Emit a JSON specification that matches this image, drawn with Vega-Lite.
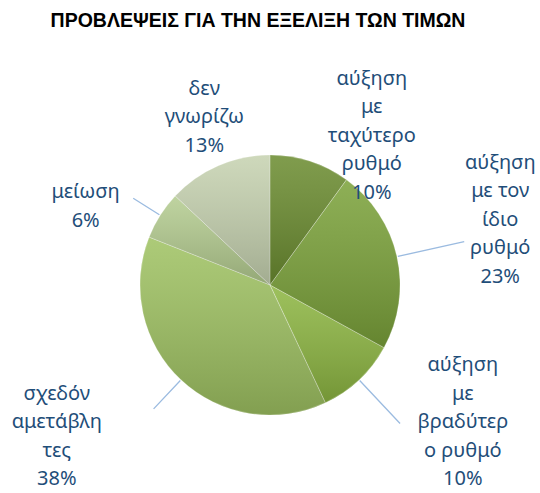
{
  "$schema": "https://vega.github.io/schema/vega-lite/v6.json",
  "width": 540,
  "height": 416,
  "autosize": "none",
  "padding": {"top": 77, "left": 0, "right": 0, "bottom": 0},
  "title": {
    "text": "ΠΡΟΒΛΕΨΕΙΣ ΓΙΑ ΤΗΝ ΕΞΕΛΙΞΗ ΤΩΝ ΤΙΜΩΝ",
    "font": "Liberation Sans",
    "fontSize": 19.5,
    "fontWeight": "bold",
    "color": "#000000",
    "anchor": "middle",
    "frame": "group",
    "offset": -78,
    "dx": -12
  },
  "data": {
    "values": [
      {"k": "αύξηση με ταχύτερο ρυθμό", "label": "αύξηση\nμε\nταχύτερο\nρυθμό\n10%", "v": 10, "o": 1},
      {"k": "αύξηση με τον ίδιο ρυθμό", "label": "αύξηση\nμε τον\nίδιο\nρυθμό\n23%", "v": 23, "o": 2},
      {"k": "αύξηση με βραδύτερο ρυθμό", "label": "αύξηση\nμε\nβραδύτερ\nο ρυθμό\n10%", "v": 10, "o": 3},
      {"k": "σχεδόν αμετάβλητες", "label": "σχεδόν\nαμετάβλη\nτες\n38%", "v": 38, "o": 4},
      {"k": "μείωση", "label": "μείωση\n6%", "v": 6, "o": 5},
      {"k": "δεν γνωρίζω", "label": "δεν\nγνωρίζω\n13%", "v": 13, "o": 6}
    ]
  },
  "encoding": {
    "theta": {"field": "v", "type": "quantitative", "stack": true},
    "order": {"field": "o", "type": "quantitative", "sort": "ascending"}
  },
  "layer": [
    {
      "mark": {"type": "arc", "radius": 130},
      "encoding": {
        "color": {
          "field": "k",
          "type": "nominal",
          "legend": null,
          "scale": {
            "domain": ["αύξηση με ταχύτερο ρυθμό", "αύξηση με τον ίδιο ρυθμό", "αύξηση με βραδύτερο ρυθμό", "σχεδόν αμετάβλητες", "μείωση", "δεν γνωρίζω"],
            "range": ["#6b8c30", "#7ba23a", "#8db642", "#9fc262", "#b4cc90", "#c6d2b0"]
          }
        }
      }
    },
    {
      "mark": {
        "type": "arc",
        "radius": 130,
        "fill": {
          "gradient": "linear",
          "x1": 0, "y1": 0, "x2": 0, "y2": 1,
          "stops": [
            {"offset": 0, "color": "rgba(255,255,255,0.14)"},
            {"offset": 1, "color": "rgba(0,0,0,0.18)"}
          ]
        },
        "stroke": "#ffffff",
        "strokeWidth": 0.6,
        "strokeOpacity": 0.35
      }
    },
    {
      "mark": {"type": "arc", "radius": 199, "radius2": 131, "padAngle": 3.2, "fill": null, "stroke": "#9bbbe0", "strokeWidth": 1.3},
      "encoding": {"strokeOpacity": {"condition": {"test": "datum.o === 2", "value": 1}, "value": 0}}
    },
    {
      "mark": {"type": "arc", "radius": 190, "radius2": 131, "padAngle": 3.2, "fill": null, "stroke": "#9bbbe0", "strokeWidth": 1.3},
      "encoding": {"strokeOpacity": {"condition": {"test": "datum.o === 3", "value": 1}, "value": 0}}
    },
    {
      "mark": {"type": "arc", "radius": 170, "radius2": 131, "padAngle": 3.2, "fill": null, "stroke": "#9bbbe0", "strokeWidth": 1.3},
      "encoding": {"strokeOpacity": {"condition": {"test": "datum.o === 4", "value": 1}, "value": 0}}
    },
    {
      "mark": {"type": "arc", "radius": 162, "radius2": 131, "padAngle": 3.2, "fill": null, "stroke": "#9bbbe0", "strokeWidth": 1.3},
      "encoding": {"strokeOpacity": {"condition": {"test": "datum.o === 5", "value": 1}, "value": 0}}
    },
    {
      "mark": {"type": "text", "radius": 174, "dx": 48, "dy": -41, "font": "Noto Sans", "fontSize": 20, "color": "#1F4E79", "lineBreak": "\n", "lineHeight": 28.5, "align": "center", "baseline": "middle"},
      "encoding": {"text": {"condition": {"test": "datum.o === 1", "field": "label", "type": "nominal"}, "value": ""}}
    },
    {
      "mark": {"type": "text", "radius": 239, "dx": -3, "dy": -70, "font": "Noto Sans", "fontSize": 20, "color": "#1F4E79", "lineBreak": "\n", "lineHeight": 28.5, "align": "center", "baseline": "middle"},
      "encoding": {"text": {"condition": {"test": "datum.o === 2", "field": "label", "type": "nominal"}, "value": ""}}
    },
    {
      "mark": {"type": "text", "radius": 232, "dx": 34, "dy": -89, "font": "Noto Sans", "fontSize": 20, "color": "#1F4E79", "lineBreak": "\n", "lineHeight": 28.5, "align": "center", "baseline": "middle"},
      "encoding": {"text": {"condition": {"test": "datum.o === 3", "field": "label", "type": "nominal"}, "value": ""}}
    },
    {
      "mark": {"type": "text", "radius": 256, "dx": -38, "dy": -78, "font": "Noto Sans", "fontSize": 20, "color": "#1F4E79", "lineBreak": "\n", "lineHeight": 28.5, "align": "center", "baseline": "middle"},
      "encoding": {"text": {"condition": {"test": "datum.o === 4", "field": "label", "type": "nominal"}, "value": ""}}
    },
    {
      "mark": {"type": "text", "radius": 197, "dx": -18, "dy": 13, "font": "Noto Sans", "fontSize": 20, "color": "#1F4E79", "lineBreak": "\n", "lineHeight": 28.5, "align": "center", "baseline": "middle"},
      "encoding": {"text": {"condition": {"test": "datum.o === 5", "field": "label", "type": "nominal"}, "value": ""}}
    },
    {
      "mark": {"type": "text", "radius": 178, "dx": 5, "dy": -33, "font": "Noto Sans", "fontSize": 20, "color": "#1F4E79", "lineBreak": "\n", "lineHeight": 28.5, "align": "center", "baseline": "middle"},
      "encoding": {"text": {"condition": {"test": "datum.o === 6", "field": "label", "type": "nominal"}, "value": ""}}
    }
  ],
  "config": {
    "view": {"stroke": null},
    "background": "#ffffff"
  }
}
